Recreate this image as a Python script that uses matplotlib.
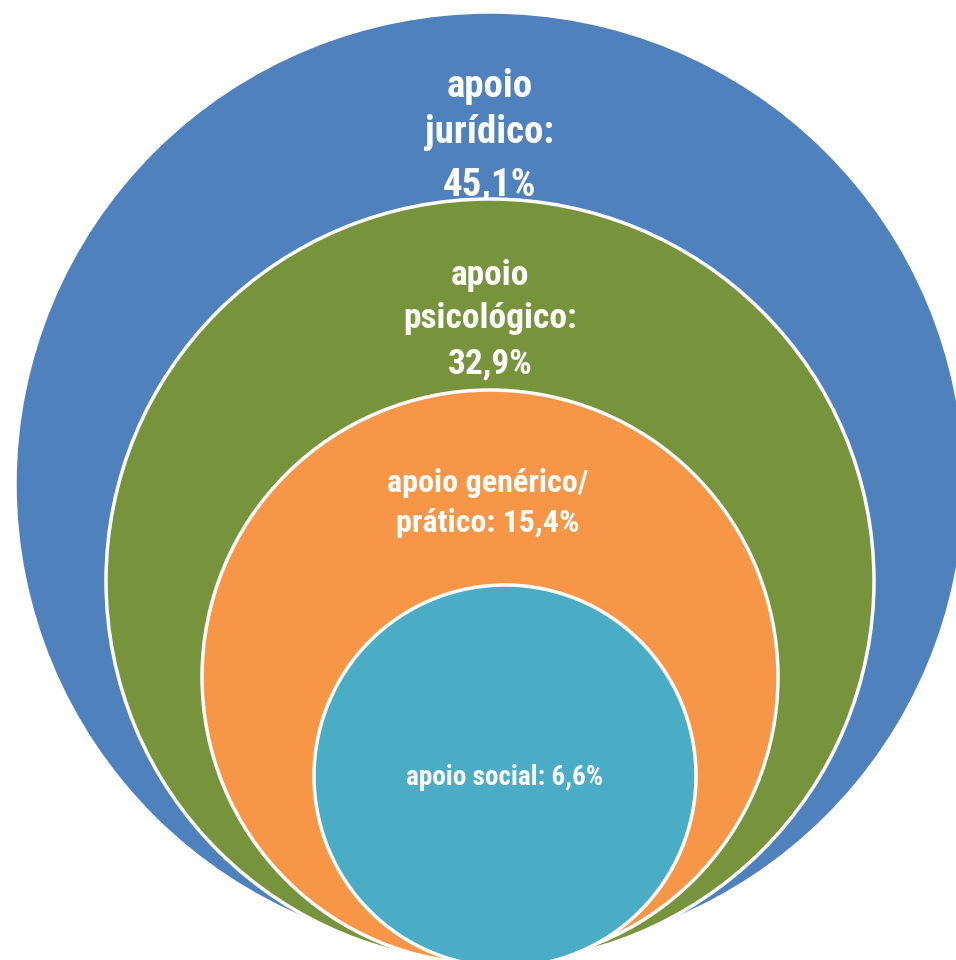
import matplotlib
matplotlib.use("Agg")
import matplotlib.pyplot as plt
from matplotlib import font_manager
from matplotlib.patches import Ellipse

# data, outermost ring first
labels = ["apoio\njurídico", "apoio\npsicológico", "apoio genérico/\nprático", "apoio social"]
values = [45.1, 32.9, 15.4, 6.6]
separators = [":\n", ":\n", ": ", ": "]

# diagram layout (pixels, y grows downward)
centers = [(490, 484), (490, 581), (490, 677), (505, 776)]
sizes = [(950, 944), (768, 764), (576, 574), (382, 382)]
colors = ["#4F81BD", "#77933C", "#F79646", "#4BACC6"]
text_x = [490, 490, 488, 505]
baselines = [[97, 143, 195], [285, 328, 373], [492, 532], [785]]
font_sizes = [28, 25.5, 23, 19.5]


def pick_font():
    names = {f.name for f in font_manager.fontManager.ttflist}
    for name in ["Roboto Condensed", "Liberation Sans Narrow", "Open Sans Condensed"]:
        if name in names:
            return name, "normal", 1.0
    for f in font_manager.fontManager.ttflist:
        if f.name == "DejaVu Sans" and "condensed" in str(f.stretch):
            return "DejaVu Sans", "condensed", 0.9
    return "DejaVu Sans", "normal", 0.72


def _main():
    family, stretch, scale = pick_font()

    fig = plt.figure(figsize=(9.56, 9.6), dpi=100)
    ax = fig.add_axes([0, 0, 1, 1])
    ax.set_xlim(0, 956)
    ax.set_ylim(960, 0)
    ax.set_aspect("equal")
    ax.axis("off")

    for i in range(len(values)):
        ax.add_patch(Ellipse(centers[i], sizes[i][0], sizes[i][1],
                             facecolor=colors[i], edgecolor="white",
                             linewidth=2.5, zorder=2 * i + 1))
        pct = f"{values[i]:.1f}".replace(".", ",") + "%"
        lines = (labels[i] + separators[i] + pct).split("\n")
        # label sits under the next (inner) circle, as in the original
        for line, y in zip(lines, baselines[i]):
            ax.text(text_x[i], y, line, ha="center", va="baseline",
                    color="white", fontsize=font_sizes[i] * scale,
                    fontweight="bold", family=[family, "DejaVu Sans"],
                    fontstretch=stretch, zorder=2 * i + 2)

    fig.savefig("out.png", dpi=100)


if __name__ == '__main__':
    _main()
